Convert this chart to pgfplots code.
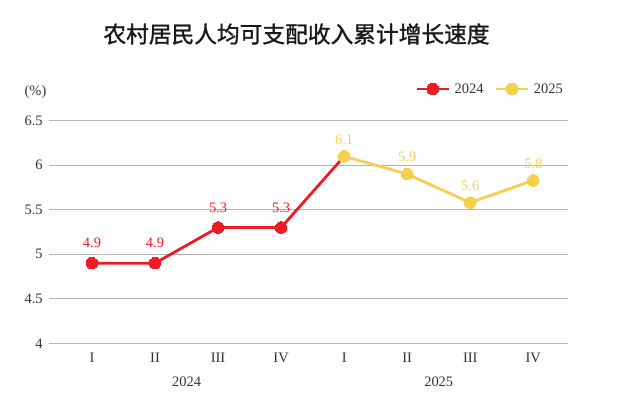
\documentclass[border=0pt]{standalone}
\usepackage{fontspec}
\setmainfont{Liberation Serif}
\newfontfamily\cjk[FakeBold=1.2]{Noto Sans CJK SC}
\usepackage{pgfplots}
\pgfplotsset{compat=1.18}
\definecolor{cred}{HTML}{EC1C24}
\definecolor{cyel}{HTML}{F4D04E}
\definecolor{ctext}{HTML}{333333}
\definecolor{cgrid}{HTML}{B4B4B4}
\begin{document}
\begin{tikzpicture}
\path[use as bounding box] (-49.3bp,-54.7bp) rectangle (567.7bp,343.3bp);
\begin{axis}[at={(0,0)}, anchor=south west, scale only axis,
  width=518.4bp, height=222.6bp,
  xmin=-0.677, xmax=7.546, ymin=4, ymax=6.5,
  ytick={4,4.5,5,5.5,6,6.5}, yticklabels={4,4.5,5,5.5,6,6.5},
  xtick={0,1,2,3,4,5,6,7}, xticklabels={I,II,III,IV,I,II,III,IV},
  axis line style={draw=none}, major tick length=0pt,
  ymajorgrids, grid style={cgrid, line width=1bp},
  tick label style={font=\fontsize{14.5}{16}\selectfont, text=ctext},
  yticklabel style={anchor=east, inner sep=0pt, xshift=-6.5bp},
  xticklabel style={anchor=north, inner sep=0pt, yshift=-9.4bp},
  clip=false,
  legend style={draw=none, fill=none, inner sep=0pt, outer sep=0pt,
    at={(rel axis cs:0.7062,1.1424)}, anchor=west, legend columns=2,
    font=\fontsize{14.5}{16}\selectfont, nodes={inner sep=0pt, outer sep=0pt, text=ctext},
    /tikz/every odd column/.style={column sep=0bp},
    /tikz/every even column/.style={column sep=11bp}},
  legend image code/.code={\draw[#1, mark=none] (0bp,0bp) -- (32bp,0bp);
     \path[#1, draw=none] plot coordinates {(16bp,0bp)};
     \path (36.5bp,0bp);},
  every node near coord/.append style={font=\fontsize{14.5}{16}\selectfont, anchor=south, inner sep=0pt},
]
% 2024 series (line continues to first 2025 point)
\addplot[cred, line width=2.8bp, mark=*, mark size=5.8bp, mark indices={1,2,3,4},
  mark options={solid, fill=cred, draw=cred, line width=0pt},
  nodes near coords, point meta=explicit symbolic,
  every node near coord/.append style={text=cred, yshift=15bp},
  coordinate style/.condition={x==4}{text opacity=0}]
  table[meta=l] {
x y l
0 4.9 4.9
1 4.9 4.9
2 5.3 5.3
3 5.3 5.3
4 6.1 x
};
\addlegendentry{2024}
\addplot[cyel, line width=2.8bp, mark=*, mark size=5.8bp,
  mark options={solid, fill=cyel, draw=cyel, line width=0pt},
  nodes near coords, point meta=explicit symbolic,
  every node near coord/.append style={text=cyel, yshift=12bp}]
  table[meta=l] {
x y l
4 6.1 6.1
5 5.9 5.9
6 5.58 5.6
7 5.83 5.8
};
\addlegendentry{2025}
\node[font=\fontsize{14.5}{16}\selectfont, text=ctext] at (axis cs:1.5,4) [yshift=-38.4bp] {2024};
\node[font=\fontsize{14.5}{16}\selectfont, text=ctext] at (axis cs:5.5,4) [yshift=-38.4bp] {2025};
\end{axis}
\node[font=\cjk\fontsize{22.8}{24}\selectfont, text=black!90] at (247.2bp,309.3bp) {农村居民人均可支配收入累计增长速度};
\node[font=\fontsize{14.5}{16}\selectfont, text=ctext] at (-13.8bp,251.6bp) {(\%)};
\end{tikzpicture}
\end{document}
